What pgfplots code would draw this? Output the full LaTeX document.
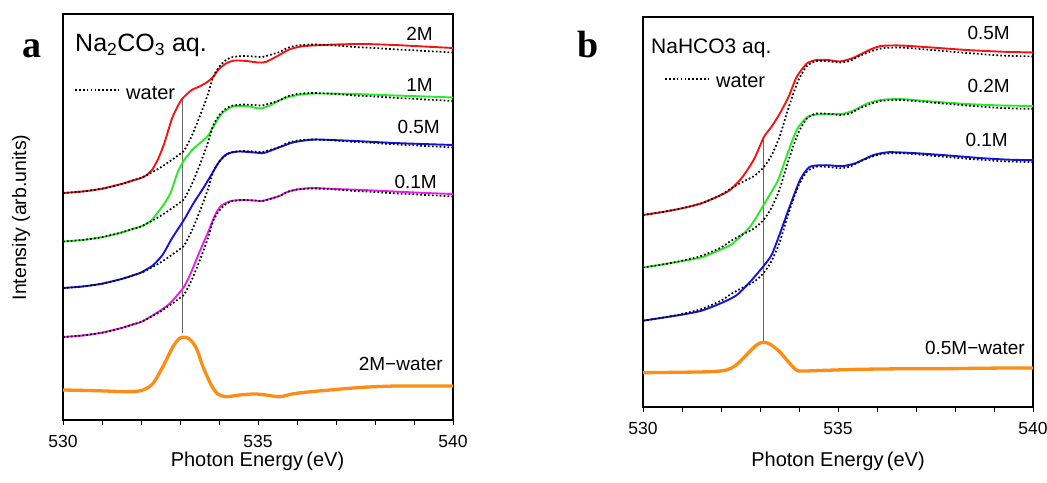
\documentclass[border=0pt]{standalone}
\usepackage{fontspec}
\setmainfont{Liberation Sans}
\newfontfamily\tnr{Liberation Serif}
\usepackage{pgfplots}
\usepackage{pgfplotstable}
\pgfplotsset{compat=1.18}
\newcommand\fs[1]{\fontsize{#1}{#1}\selectfont}
\definecolor{cred}{RGB}{245,20,20}
\definecolor{cgreen}{RGB}{40,235,40}
\definecolor{cblue}{RGB}{20,20,225}
\definecolor{cmag}{RGB}{235,30,235}
\definecolor{corange}{RGB}{255,140,20}

% ---- left panel (heights above each baseline) ----
\pgfplotstableread{
x h
530.0 0
530.5 1.5
531.0 4.3
531.5 9
531.8 12.7
532.0 15
532.25 20
532.5 25.5
532.75 32
533.0 39
533.1 42
533.3 57
533.5 76
533.7 97
533.85 116
534.0 126
534.15 132
534.3 135.5
534.6 137
534.9 136.5
535.1 136
535.3 138
535.55 141
535.75 145
536.0 147.5
536.4 148.5
537.0 147.5
537.5 146
538.0 145
538.6 143.5
539.3 142
540.0 140.5
}\waterL
\pgfplotstableread{
x h
530.0 0
530.5 1.5
531.0 4.3
531.5 9
531.8 12.7
532.0 15
532.15 18
532.3 24
532.45 35
532.6 50
532.8 75
533.0 91
533.1 96
533.3 103
533.5 106.5
533.7 111
533.85 116
534.0 124
534.2 130
534.4 132.5
534.7 132
535.0 130.5
535.2 131
535.5 137
535.8 143.5
536.1 146.5
536.4 147.5
537.0 148.5
537.7 149
538.5 148
539.0 147
540.0 145
}\redL
\pgfplotstableread{
x h
530.0 0
530.5 1.5
531.0 4.3
531.5 9
531.8 12.7
532.0 15
532.25 20.5
532.45 30
532.6 38
532.75 48
532.95 70
533.1 81
533.35 93
533.7 105
533.95 121
534.1 129
534.35 135
534.7 135.5
535.05 133
535.3 136
535.65 143
536.1 147
536.5 148
537.5 147.5
538.5 146
539.3 145
540.0 144
}\greenL
\pgfplotstableread{
x h
530.0 0
530.5 1.5
531.0 4.3
531.5 9
531.8 12.7
532.0 15.5
532.3 22.5
532.55 33
532.8 50
533.1 68
533.35 85
533.6 100
533.8 113
534.0 126
534.2 134
534.5 136.5
534.9 135.5
535.15 135
535.5 140
535.85 145
536.1 147
536.5 148.5
537.5 147
538.5 145
540.0 143
}\blueL
\pgfplotstableread{
x h
530.0 0
530.5 1.5
531.0 4.3
531.5 9
531.8 12.7
532.0 15
532.25 20.5
532.5 26.5
532.75 34
533.1 50
533.3 66
533.5 85
533.7 103
533.9 122
534.05 131
534.3 136
534.6 137
534.9 136.5
535.1 136
535.3 138
535.55 141
535.75 145
536.0 147.5
536.4 149
537.0 148
537.7 147
538.5 145.5
539.3 144
540.0 143
}\magL
\pgfplotstableread{
x y
530.0 30
530.85 29.3
531.7 28.3
532.05 30
532.31 36.7
532.56 53.3
532.82 73.3
532.99 81.7
533.12 82.7
533.25 80.7
533.42 71.7
533.59 53.3
533.8 35
533.97 26
534.19 23.3
534.53 25
534.91 26
535.21 25
535.56 23.3
535.98 26.7
536.84 30
537.69 32.7
538.55 34
539.4 34
540.0 34
}\diffL

% ---- right panel ----
\pgfplotstableread{
x h
530.0 0
530.5 3
531.0 6.7
531.5 11.7
532.0 20
532.25 26.5
532.55 33
532.85 39
533.1 48
533.3 60
533.5 78
533.68 101
533.85 121
534.0 136
534.2 149
534.45 154
534.8 153.5
535.05 152.5
535.3 154
535.55 159
535.8 163
536.1 166.5
536.6 167.5
537.4 165
538.3 162
539.2 159.5
540.0 158.5
}\waterR
\pgfplotstableread{
x h
530.0 0
530.5 3
531.0 6.7
531.5 11.7
532.0 20
532.25 25.5
532.55 38
532.85 56
533.1 78
533.3 88.5
533.5 101
533.73 118
533.94 138
534.2 151.5
534.45 155
534.75 155
535.05 153.5
535.35 156.5
535.6 161
535.8 165
536.1 169
536.6 169.5
537.4 167.5
538.3 165
539.2 163.3
540.0 162.5
}\redR
\pgfplotstableread{
x h
530.0 0
530.5 3
531.0 6.5
531.5 10
532.0 18
532.3 24
532.75 41
533.1 63
533.3 76
533.47 88
533.68 111
533.94 137.5
534.2 150
534.45 153
534.8 153.5
535.1 153.5
535.4 157
535.75 164
536.1 167.5
536.6 168.5
537.4 166
538.3 163.5
539.2 162
540.0 161.5
}\greenR
\pgfplotstableread{
x h
530.0 0
530.5 3
531.0 6
531.5 10
532.0 17.5
532.4 25.5
532.75 39
533.1 55
533.3 66
533.5 86
533.77 115
534.03 141
534.28 154
534.7 155.5
535.1 154.5
535.45 157.5
535.9 165.5
536.3 168.5
537.0 167.5
537.9 165
538.7 162.5
539.4 161
540.0 160.5
}\blueR
\pgfplotstableread{
x y
530.0 34.3
530.85 34.7
531.71 35.3
532.14 37
532.39 42
532.65 52
532.91 62
533.08 64.7
533.25 63
533.5 55.3
533.76 43.7
533.93 37
534.1 36
534.7 36.7
535.56 37.7
536.84 38.3
537.69 38.3
538.55 38.7
539.4 39
540.0 39
}\diffR

\pgfplotsset{
  myax/.style={
    scale only axis, width=390pt, xmin=530, xmax=540, ymin=0,
    xtick={530,535,540}, minor xtick={531,532,533,534,536,537,538,539},
    ytick=\empty, tick align=outside, xtick pos=left,
    major tick length=5pt, minor tick length=5pt,
    axis line style={line width=1.3pt},
    every tick/.style={black, line width=1pt},
    /pgf/number format/assume math mode=true,
    /pgf/number format/1000 sep={},
    xticklabel style={font=\fs{17.5}, yshift=-6.5pt},
    clip=false,
  },
  wat/.style={black, line width=1.7pt, dash pattern=on 1.7pt off 2.2pt, smooth, tension=0.4},
  col/.style={#1, line width=1.9pt, smooth, tension=0.4},
  dif/.style={corange, line width=3.3pt, smooth, tension=0.5},
  vl/.style={black!60, line width=0.8pt},
}

\begin{document}
\begin{tikzpicture}[x=1pt,y=1pt]
\path[use as bounding box] (0,0) rectangle (1047,482);
% ---------------- left ----------------
\begin{axis}[myax, at={(63pt,62pt)}, anchor=south west, height=406pt, ymax=406]
\addplot[vl] coordinates {(533.07,87) (533.07,322)};
\addplot[col=cmag] table[x=x, y expr=\thisrow{h}+83] {\magL};
\addplot[wat] table[x=x, y expr=\thisrow{h}+83] {\waterL};
\addplot[col=cblue] table[x=x, y expr=\thisrow{h}+132] {\blueL};
\addplot[wat] table[x=x, y expr=\thisrow{h}+132] {\waterL};
\addplot[col=cgreen] table[x=x, y expr=\thisrow{h}+178.5] {\greenL};
\addplot[wat] table[x=x, y expr=\thisrow{h}+178.5] {\waterL};
\addplot[col=cred] table[x=x, y expr=\thisrow{h}+227] {\redL};
\addplot[wat] table[x=x, y expr=\thisrow{h}+227] {\waterL};
\addplot[dif] table[x=x, y=y] {\diffL};
\end{axis}
% ---------------- right ----------------
\begin{axis}[myax, at={(643pt,75pt)}, anchor=south west, height=390pt, ymax=390]
\addplot[vl] coordinates {(533.08,66) (533.08,270)};
\addplot[col=cblue] table[x=x, y expr=\thisrow{h}+86.3] {\blueR};
\addplot[wat] table[x=x, y expr=\thisrow{h}+86.3] {\waterR};
\addplot[col=cgreen] table[x=x, y expr=\thisrow{h}+139.5] {\greenR};
\addplot[wat] table[x=x, y expr=\thisrow{h}+139.5] {\waterR};
\addplot[col=cred] table[x=x, y expr=\thisrow{h}+192] {\redR};
\addplot[wat] table[x=x, y expr=\thisrow{h}+192] {\waterR};
\addplot[dif] table[x=x, y=y] {\diffR};
\end{axis}
% ---------------- texts ----------------
\node[anchor=base west, inner sep=0pt] at (22,424.5) {\tnr\bfseries\fs{38}a};
\node[anchor=base west, inner sep=0pt] at (577,424.5) {\tnr\bfseries\fs{38}b};
\node[anchor=base west, inner sep=0pt] at (75,430.3) {\fs{25}Na\textsubscript{2}CO\textsubscript{3} aq.};
\node[anchor=base west, inner sep=0pt] at (651,428.7) {\fs{21}NaHCO3 aq.};
\draw[black, line width=1.7pt, dash pattern=on 1.7pt off 2.2pt] (75,392) -- (118,392);
\node[anchor=base west, inner sep=0pt] at (126,382.7) {\fs{20}water};
\draw[black, line width=1.7pt, dash pattern=on 1.7pt off 2.2pt] (665,402.7) -- (709,402.7);
\node[anchor=base west, inner sep=0pt] at (716,394.7) {\fs{20}water};
\node[anchor=base east, inner sep=0pt] at (433,441.3) {\fs{19}2M};
\node[anchor=base east, inner sep=0pt] at (433,390.3) {\fs{19}1M};
\node[anchor=base east, inner sep=0pt] at (440,348) {\fs{19}0.5M};
\node[anchor=base east, inner sep=0pt] at (437,293.7) {\fs{19}0.1M};
\node[anchor=base east, inner sep=0pt] at (443,111.3) {\fs{19}2M−water};
\node[anchor=base east, inner sep=0pt] at (1010,442.7) {\fs{19}0.5M};
\node[anchor=base east, inner sep=0pt] at (1010,389.7) {\fs{19}0.2M};
\node[anchor=base east, inner sep=0pt] at (1008,335.3) {\fs{19}0.1M};
\node[anchor=base east, inner sep=0pt] at (1025,127) {\fs{19}0.5M−water};
\node[anchor=base, inner sep=0pt] at (257.5,16) {\fs{20}Photon Energy\,(eV)};
\node[anchor=base, inner sep=0pt] at (838,16) {\fs{20}Photon Energy\,(eV)};
\node[rotate=90, anchor=center, inner sep=0pt] at (21,264.5) {\fs{19.5}Intensity (arb.units)};
\end{tikzpicture}
\end{document}
